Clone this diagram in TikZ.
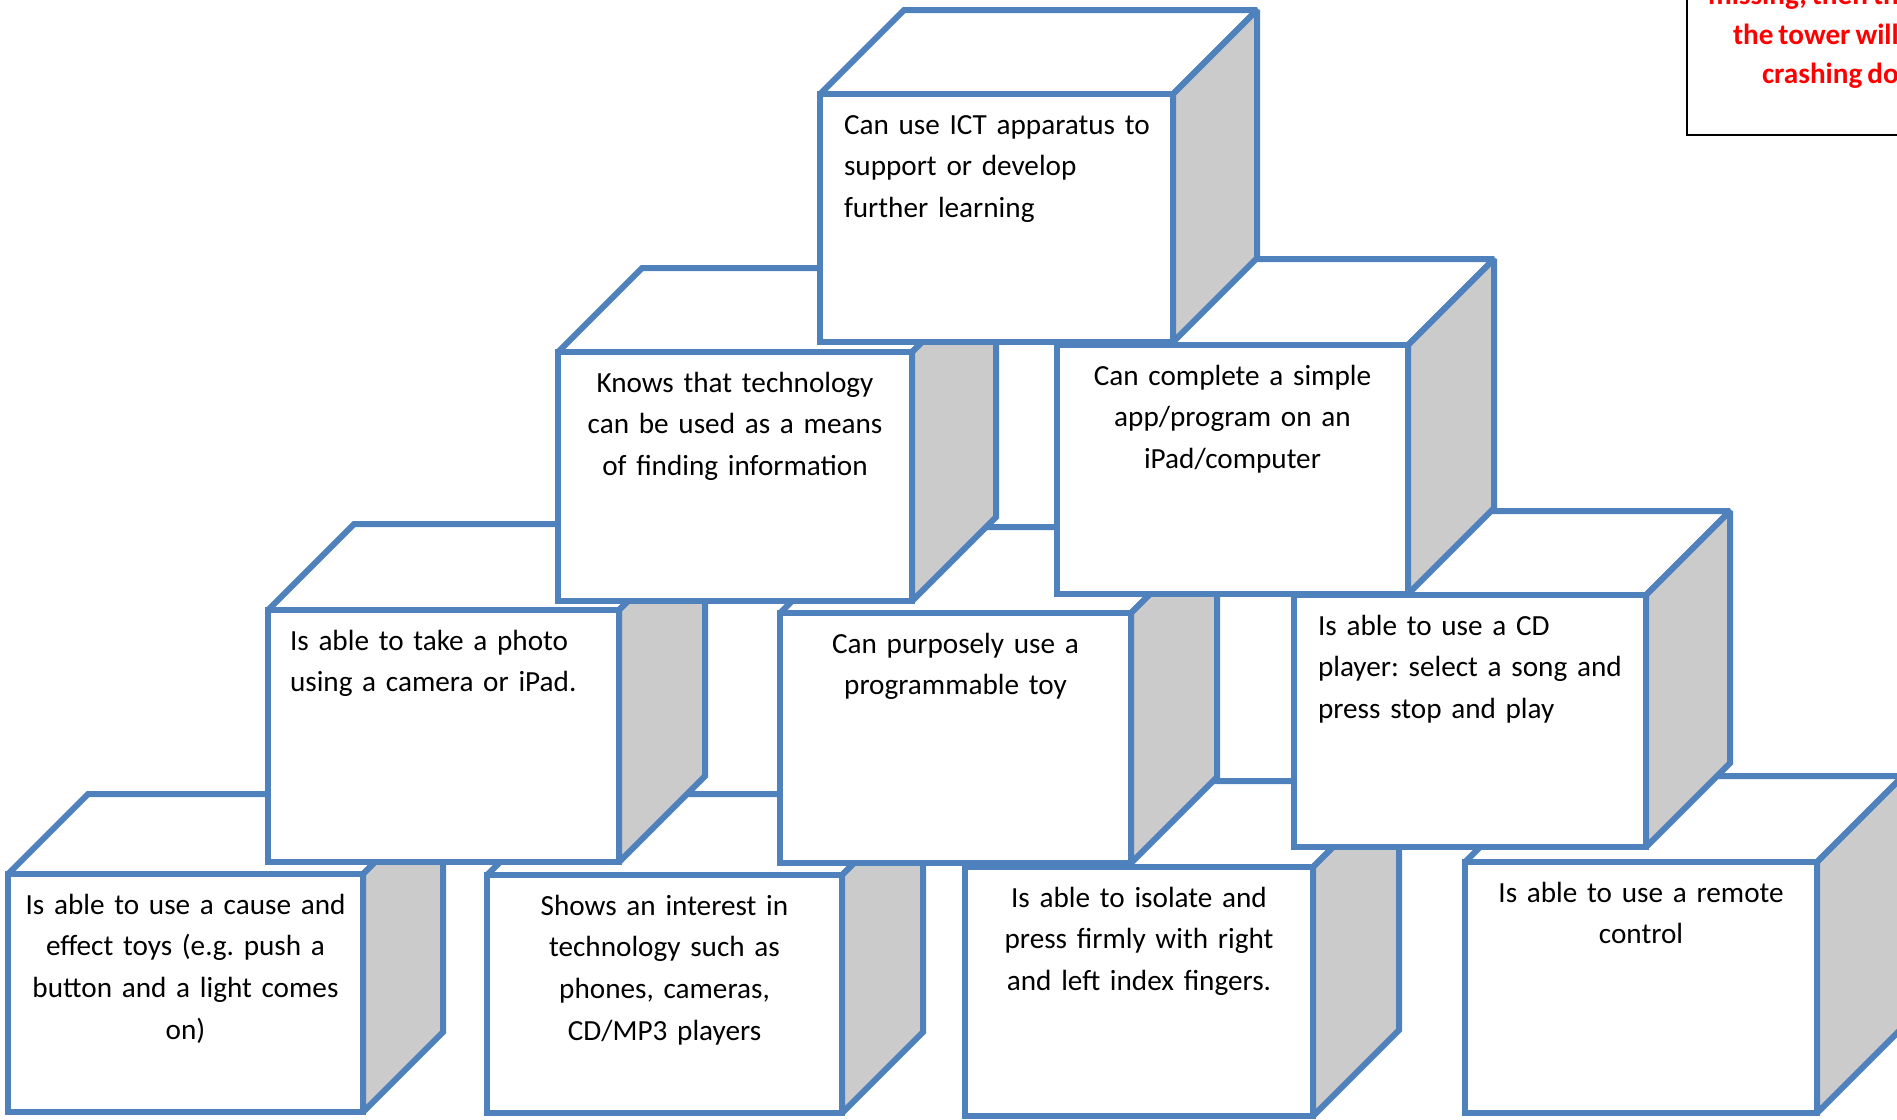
\documentclass[tikz,border=0pt]{standalone}
\usepackage{fontspec}
\setmainfont{Carlito}
\frenchspacing
\definecolor{cubeblue}{HTML}{4F81BD}
\definecolor{sidegray}{HTML}{CBCBCB}
\definecolor{notered}{HTML}{FF0000}
\newcommand\fl{\rule{0pt}{25pt}}
\newcommand\tightspace{\fontdimen2\font=0.17em\fontdimen3\font=0.03em\fontdimen4\font=0.02em\relax}
% #1 name, #2 x1, #3 y1, #4 x2, #5 y2, #6 depth
\newcommand\blockcube[6]{%
  \draw[edge, fill=white] (#2,#3) -- (#2+#6,#3-#6) -- (#4+#6,#3-#6) -- (#4,#3) -- cycle;
  \draw[edge, fill=sidegray] (#4,#3) -- (#4+#6,#3-#6) -- (#4+#6,#5-#6) -- (#4,#5) -- cycle;
  \node[front, minimum width={(#4-#2)*1pt}, minimum height={(#5-#3)*1pt}, anchor=north west] (#1) at (#2,#3) {};
}
\begin{document}
\begin{tikzpicture}[x=1pt,y=-1pt,
  edge/.style={draw=cubeblue, line width=6pt, line join=miter, miter limit=2},
  front/.style={edge, fill=white, rectangle, inner sep=0pt, outer sep=0pt},
  lbl/.style={inner sep=0pt, outer sep=0pt, font=\fontsize{29.2}{41.7}\selectfont\tightspace, text=black},
  lblc/.style={lbl, anchor=north, text width=345pt, align=center},
  lbll/.style={lbl, anchor=north west, text width=320pt, align=left},
  notetext/.style={inner sep=0pt, outer sep=0pt, anchor=base west, text=notered, font=\fontsize{29.2}{40}\selectfont\bfseries\tightspace},
]
\useasboundingbox (0,0) rectangle (1897,1119);
\clip (0,0) rectangle (1897,1119);
\fill[white] (0,0) rectangle (1897,1119);

% bottom row
\blockcube{B1}{8}{874}{363}{1112}{80}
\node[lblc] (B1t) at ([yshift=-15pt]B1.north) {\fl Is able to use a cause and\\effect toys (e.g. push a\\button and a light comes\\on)};
\blockcube{B2}{487}{875}{842}{1113}{81}
\node[lblc] (B2t) at ([yshift=-15pt]B2.north) {\fl Shows an interest in\\technology such as\\phones, cameras,\\CD/MP3 players};
\blockcube{B3}{965}{867}{1313}{1116}{86}
\node[lblc] (B3t) at ([yshift=-15pt]B3.north) {\fl Is able to isolate and\\press firmly with right\\and left index fingers.};
\blockcube{B4}{1465}{862}{1817}{1113}{86}
\node[lblc] (B4t) at ([yshift=-15pt]B4.north) {\fl Is able to use a remote\\control};

% middle row
\blockcube{P}{268}{610}{619}{862}{86}
\node[lbll] (Pt) at ([xshift=22pt,yshift=-15pt]P.north west) {\fl Is able to take a photo\\using a camera or iPad.};
\blockcube{G}{780}{613}{1131}{863}{86}
\node[lblc] (Gt) at ([yshift=-15pt]G.north) {\fl Can purposely use a\\programmable toy};
\blockcube{D}{1294}{595}{1646}{847}{84}
\node[lbll] (Dt) at ([xshift=24pt,yshift=-15pt]D.north west) {\fl Is able to use a CD\\player: select a song and\\press stop and play};

% upper row
\blockcube{K}{558}{352}{912}{601}{84}
\node[lblc] (Kt) at ([yshift=-15pt]K.north) {\fl Knows that technology\\can be used as a means\\of finding information};
\blockcube{C}{1057}{345}{1408}{594}{86}
\node[lblc] (Ct) at ([yshift=-15pt]C.north) {\fl Can complete a simple\\app/program on an\\iPad/computer};

% top
\blockcube{T}{820}{94}{1173}{342}{84}
\node[lbll] (Tt) at ([xshift=24pt,yshift=-15pt]T.north west) {\fl Can use ICT apparatus to\\support or develop\\further learning};

% note box (cut by the page edge)
\node[draw=black, line width=2pt, fill=white, rectangle, minimum width=340pt, minimum height=220pt, anchor=south west, inner sep=0pt, outer sep=0pt] (note) at (1687,135) {};
\node[notetext] (n1) at (1708,4) {missing, then the};
\node[notetext] (n2) at (1733,44) {the tower will come};
\node[notetext] (n3) at (1762,83) {crashing down};
\end{tikzpicture}
\end{document}
